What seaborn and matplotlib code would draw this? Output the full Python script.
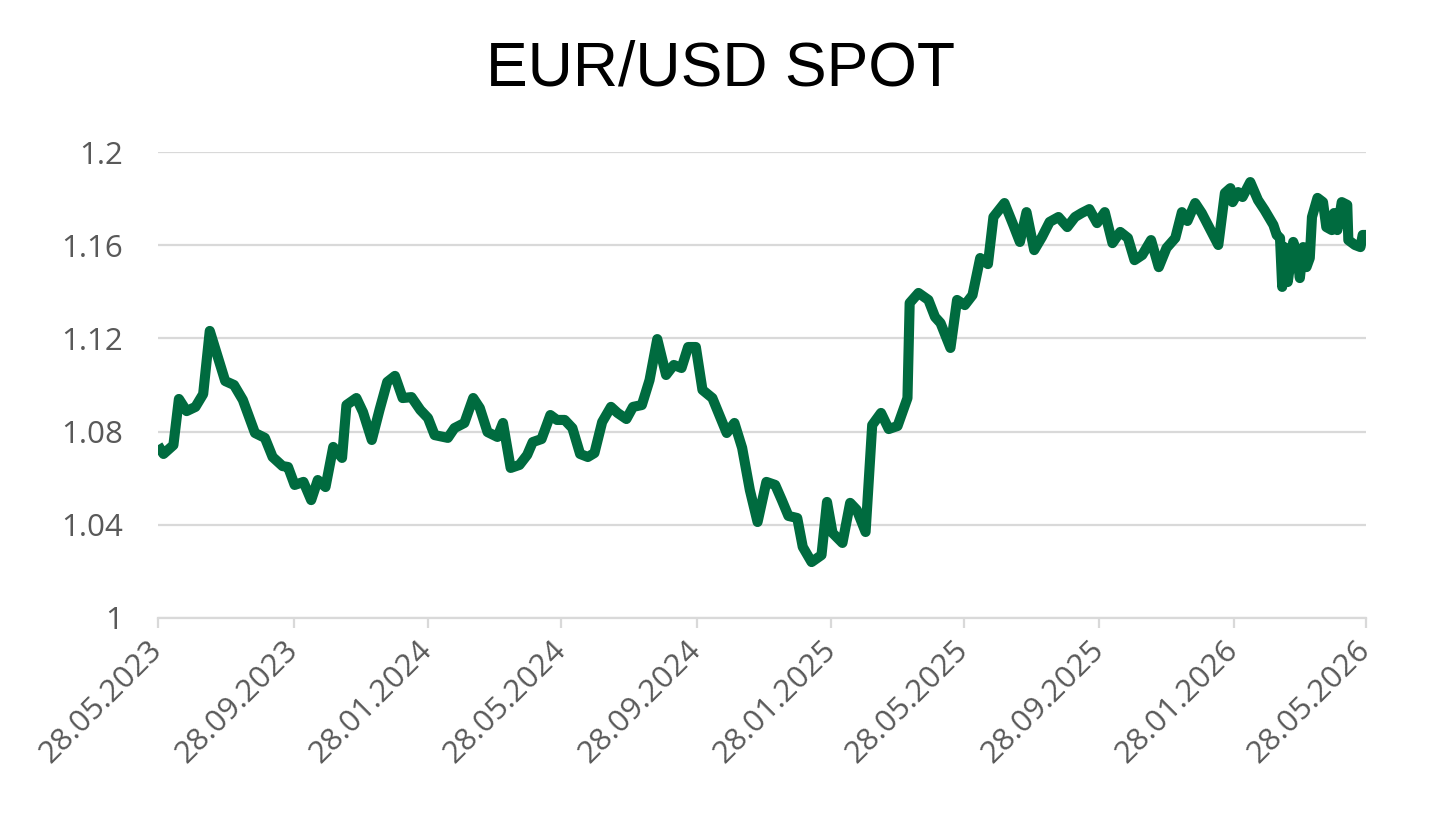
import pandas as pd
import seaborn as sns
import matplotlib.pyplot as plt
import matplotlib.dates as mdates

# EUR/USD spot
dates = [
    "2023-05-28", "2023-06-02", "2023-06-11", "2023-06-16", "2023-06-23", "2023-07-01", "2023-07-08",
    "2023-07-14", "2023-07-28", "2023-08-05", "2023-08-13", "2023-08-24", "2023-09-02", "2023-09-09",
    "2023-09-18", "2023-09-23", "2023-09-29", "2023-10-07", "2023-10-14", "2023-10-20", "2023-10-27",
    "2023-11-03", "2023-11-11", "2023-11-15", "2023-11-24", "2023-11-30", "2023-12-08", "2023-12-15",
    "2023-12-22", "2023-12-29", "2024-01-05", "2024-01-13", "2024-01-21", "2024-01-28", "2024-02-03",
    "2024-02-15", "2024-02-21", "2024-03-01", "2024-03-09", "2024-03-15", "2024-03-22", "2024-03-31",
    "2024-04-05", "2024-04-12", "2024-04-20", "2024-04-27", "2024-05-02", "2024-05-10", "2024-05-18",
    "2024-05-24", "2024-05-31", "2024-06-07", "2024-06-14", "2024-06-21", "2024-06-27", "2024-07-04",
    "2024-07-12", "2024-07-18", "2024-07-26", "2024-08-01", "2024-08-09", "2024-08-16", "2024-08-23",
    "2024-08-31", "2024-09-07", "2024-09-14", "2024-09-20", "2024-09-27", "2024-10-03", "2024-10-12",
    "2024-10-19", "2024-10-25", "2024-11-01", "2024-11-08", "2024-11-15", "2024-11-22", "2024-11-30",
    "2024-12-08", "2024-12-14", "2024-12-20", "2024-12-28", "2025-01-02", "2025-01-10", "2025-01-19",
    "2025-01-24", "2025-01-29", "2025-02-07", "2025-02-14", "2025-02-20", "2025-02-28", "2025-03-06",
    "2025-03-14", "2025-03-21", "2025-03-29", "2025-04-07", "2025-04-09", "2025-04-17", "2025-04-26",
    "2025-05-02", "2025-05-07", "2025-05-16", "2025-05-22", "2025-05-29", "2025-06-05", "2025-06-12",
    "2025-06-19", "2025-06-24", "2025-07-04", "2025-07-12", "2025-07-18", "2025-07-24", "2025-07-31",
    "2025-08-07", "2025-08-14", "2025-08-22", "2025-08-30", "2025-09-06", "2025-09-12", "2025-09-19",
    "2025-09-26", "2025-10-03", "2025-10-10", "2025-10-17", "2025-10-24", "2025-10-30", "2025-11-06",
    "2025-11-14", "2025-11-21", "2025-11-28", "2025-12-06", "2025-12-12", "2025-12-17", "2025-12-24",
    "2025-12-30", "2026-01-06", "2026-01-14", "2026-01-20", "2026-01-25", "2026-01-27", "2026-02-01",
    "2026-02-05", "2026-02-12", "2026-02-19", "2026-02-25", "2026-03-05", "2026-03-08", "2026-03-11",
    "2026-03-13", "2026-03-15", "2026-03-18", "2026-03-23", "2026-03-26", "2026-03-29", "2026-04-01",
    "2026-04-04", "2026-04-07", "2026-04-09", "2026-04-14", "2026-04-19", "2026-04-22", "2026-04-27",
    "2026-04-29", "2026-05-02", "2026-05-06", "2026-05-11", "2026-05-12", "2026-05-18", "2026-05-23",
    "2026-05-25", "2026-05-28",
]
rates = [
    1.0742, 1.0704, 1.0742, 1.0940, 1.0888, 1.0906, 1.0961,
    1.1232, 1.1017, 1.1000, 1.0936, 1.0794, 1.0773, 1.0691,
    1.0652, 1.0648, 1.0571, 1.0584, 1.0506, 1.0592, 1.0562,
    1.0734, 1.0687, 1.0914, 1.0944, 1.0884, 1.0764, 1.0893,
    1.1013, 1.1039, 1.0944, 1.0948, 1.0893, 1.0858, 1.0785,
    1.0773, 1.0815, 1.0837, 1.0944, 1.0901, 1.0798, 1.0777,
    1.0837, 1.0644, 1.0657, 1.0700, 1.0755, 1.0768, 1.0871,
    1.0850, 1.0850, 1.0815, 1.0704, 1.0691, 1.0708, 1.0841,
    1.0906, 1.0880, 1.0854, 1.0906, 1.0914, 1.1021, 1.1197,
    1.1043, 1.1086, 1.1073, 1.1163, 1.1163, 1.0979, 1.0944,
    1.0863, 1.0794, 1.0837, 1.0730, 1.0549, 1.0412, 1.0584,
    1.0571, 1.0506, 1.0438, 1.0429, 1.0305, 1.0240, 1.0270,
    1.0498, 1.0365, 1.0322, 1.0494, 1.0464, 1.0369, 1.0828,
    1.0880, 1.0811, 1.0824, 1.0944, 1.1352, 1.1395, 1.1365,
    1.1292, 1.1266, 1.1159, 1.1365, 1.1343, 1.1386, 1.1545,
    1.1519, 1.1721, 1.1781, 1.1687, 1.1614, 1.1742, 1.1579,
    1.1635, 1.1700, 1.1721, 1.1678, 1.1721, 1.1738, 1.1755,
    1.1695, 1.1742, 1.1609, 1.1657, 1.1631, 1.1536, 1.1558,
    1.1622, 1.1506, 1.1588, 1.1631, 1.1742, 1.1704, 1.1781,
    1.1738, 1.1674, 1.1601, 1.1824, 1.1845, 1.1785, 1.1828,
    1.1807, 1.1871, 1.1794, 1.1751, 1.1687, 1.1644, 1.1631,
    1.1421, 1.1592, 1.1442, 1.1614, 1.1571, 1.1459, 1.1592,
    1.1506, 1.1545, 1.1721, 1.1803, 1.1785, 1.1678, 1.1665,
    1.1738, 1.1665, 1.1785, 1.1773, 1.1622, 1.1601, 1.1592,
    1.1644, 1.1644,
]

tick_dates = ["2023-05-28", "2023-09-28", "2024-01-28", "2024-05-28", "2024-09-28",
              "2025-01-28", "2025-05-28", "2025-09-28", "2026-01-28", "2026-05-28"]
y_ticks = [1, 1.04, 1.08, 1.12, 1.16, 1.2]
y_labels = ["1", "1.04", "1.08", "1.12", "1.16", "1.2"]

TITLE = "EUR/USD SPOT"
LINE_COLOR = "#006B3F"
GRID_COLOR = "#D9D9D9"
TEXT_COLOR = "#595959"


def main():
    sns.set_style("white")
    plt.rcParams['font.family'] = ['Open Sans', 'DejaVu Sans']

    df = pd.DataFrame({"date": pd.to_datetime(dates), "rate": rates})

    fig = plt.figure(figsize=(14.4, 8.13), dpi=100)
    ax = fig.add_axes([0.1097, 0.2399, 0.8389, 0.5731])

    sns.lineplot(data=df, x="date", y="rate", ax=ax, color=LINE_COLOR,
                 linewidth=7.3, solid_joinstyle="round", solid_capstyle="butt", zorder=3)

    ax.set_xlim(pd.Timestamp(tick_dates[0]), pd.Timestamp(tick_dates[-1]))
    ax.set_ylim(1, 1.2)

    ax.set_yticks(y_ticks)
    ax.set_yticklabels(y_labels)
    ax.set_xticks(pd.to_datetime(tick_dates))
    ax.xaxis.set_major_formatter(mdates.DateFormatter("%d.%m.%Y"))

    ax.grid(axis="y", color=GRID_COLOR, linewidth=1.6, zorder=0)
    ax.grid(axis="x", visible=False)
    for side in ["top", "right", "left"]:
        ax.spines[side].set_visible(False)
    ax.spines["bottom"].set_color(GRID_COLOR)
    ax.spines["bottom"].set_linewidth(1.6)

    ax.tick_params(axis="y", length=0, pad=25, labelsize=22.5, labelcolor=TEXT_COLOR)
    ax.tick_params(axis="x", direction="out", length=7, width=1.6, color=GRID_COLOR,
                   pad=13, labelsize=22.5, labelcolor=TEXT_COLOR, bottom=True)
    for lbl in ax.get_xticklabels():
        lbl.set_rotation(45)
        lbl.set_ha("right")
        lbl.set_va("center")
        lbl.set_rotation_mode("anchor")

    ax.set_xlabel("")
    ax.set_ylabel("")

    fig.text(0.5, 0.915, TITLE, ha="center", va="center", fontsize=45,
             color="black", family=["Liberation Sans", "DejaVu Sans"])

    fig.savefig("out.png", dpi=100)


if __name__ == "__main__":
    main()
